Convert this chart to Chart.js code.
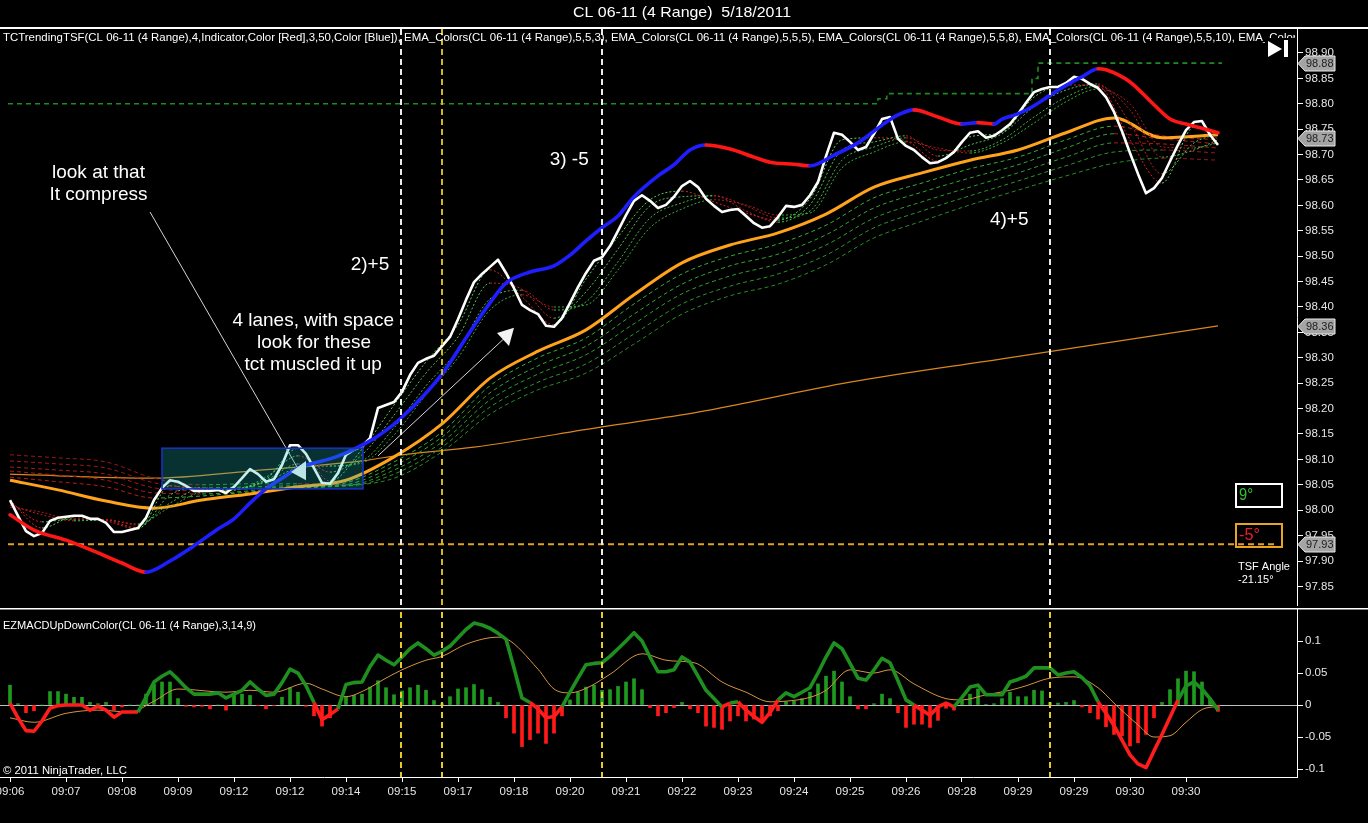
<!DOCTYPE html>
<html><head><meta charset="utf-8">
<script src="https://cdn.jsdelivr.net/npm/chart.js@4.4.1/dist/chart.umd.min.js"></script>
<style>
html,body{margin:0;padding:0;background:#000;overflow:hidden;}
#wrap{position:relative;width:1368px;height:823px;background:#000;}
#c1{position:absolute;left:0;top:0;}
#c2{position:absolute;left:0;top:608px;}
</style></head><body>
<div id="wrap">
<canvas id="c1" width="1368" height="608"></canvas>
<canvas id="c2" width="1368" height="215"></canvas>
</div>
<script>
// ---------------- DATA ----------------
const timeLabels = ["09:06","09:07","09:08","09:09","09:12","09:12","09:14","09:15","09:17","09:18","09:20","09:21","09:22","09:23","09:24","09:25","09:26","09:28","09:29","09:29","09:30","09:30"];
const barsPerLabel = 7;
const priceTicks = [97.85,97.90,97.95,98.00,98.05,98.10,98.15,98.20,98.25,98.30,98.35,98.40,98.45,98.50,98.55,98.60,98.65,98.70,98.75,98.80,98.85,98.90];
const macdTicks = [-0.1,-0.05,0,0.05,0.1];

// white close line, one value per bar
const closeVals = [
98.020,97.989,97.959,97.949,97.955,97.979,97.985,97.987,97.989,97.989,
97.983,97.983,97.975,97.957,97.957,97.961,97.965,97.985,98.020,98.044,
98.059,98.056,98.048,98.038,98.038,98.038,98.040,98.034,98.046,98.063,
98.081,98.071,98.056,98.061,98.089,98.128,98.128,98.111,98.083,98.054,
98.052,98.073,98.109,98.119,98.126,98.142,98.201,98.207,98.213,98.233,
98.266,98.290,98.298,98.304,98.323,98.341,98.376,98.414,98.449,98.465,
98.479,98.493,98.467,98.437,98.404,98.394,98.386,98.363,98.361,98.378,
98.408,98.439,98.467,98.491,98.498,98.520,98.550,98.581,98.609,98.620,
98.609,98.595,98.601,98.617,98.638,98.648,98.636,98.613,98.599,98.587,
98.591,98.593,98.579,98.565,98.556,98.559,98.577,98.599,98.597,98.601,
98.620,98.646,98.697,98.743,98.739,98.725,98.709,98.715,98.741,98.770,
98.774,98.731,98.717,98.709,98.695,98.683,98.685,98.693,98.705,98.725,
98.743,98.746,98.733,98.737,98.748,98.760,98.780,98.802,98.823,98.829,
98.833,98.833,98.841,98.853,98.849,98.839,98.831,98.813,98.784,98.746,
98.703,98.662,98.624,98.634,98.654,98.687,98.719,98.748,98.764,98.766,
98.739,98.719];

// TSF trend line [bar, value]
const tsfPts = [[0,97.991],[3,97.961],[7,97.941],[11,97.916],[14,97.896],[17,97.878],[20,97.900],[23,97.930],[26,97.963],[28,97.983],[30,98.014],[32,98.042],[34,98.063],[36,98.083],[38,98.093],[40,98.101],[42,98.113],[44,98.128],[46,98.146],[49,98.183],[54,98.268],[57,98.339],[60,98.408],[62,98.447],[65,98.469],[68,98.481],[70,98.502],[72,98.530],[74,98.556],[76,98.579],[78,98.617],[81,98.658],[83,98.680],[85,98.709],[87,98.719],[90,98.711],[93,98.695],[95,98.685],[98,98.681],[100,98.678],[103,98.699],[106,98.723],[109,98.758],[111,98.778],[113,98.788],[116,98.774],[119,98.760],[121,98.763],[123,98.760],[124,98.770],[126,98.780],[128,98.796],[130,98.817],[133,98.845],[134,98.853],[136,98.869],[137,98.867],[140,98.843],[143,98.798],[145,98.770],[147,98.760],[149,98.752],[151,98.743]];

// fast EMA ribbon (3,5,8,10)
const fastIdx = [0,4,8,12,16,20,24,28,32,36,40,44,48,52,56,60,64,68,72,76,80,84,88,92,96,100,104,108,112,116,120,124,128,132,136,140,144,148,151];
const fast1 = [98.020,97.965,97.987,97.979,97.963,98.048,98.040,98.042,98.061,98.122,98.057,98.120,98.207,98.292,98.365,98.473,98.420,98.365,98.455,98.538,98.611,98.628,98.607,98.585,98.571,98.613,98.729,98.733,98.727,98.687,98.735,98.744,98.813,98.837,98.835,98.729,98.644,98.754,98.731];
const fast2 = [98.016,97.977,97.983,97.981,97.965,98.030,98.044,98.040,98.065,98.107,98.075,98.109,98.187,98.270,98.341,98.447,98.435,98.378,98.430,98.514,98.599,98.617,98.619,98.589,98.567,98.601,98.709,98.725,98.737,98.697,98.719,98.741,98.794,98.827,98.839,98.762,98.662,98.723,98.741];
const fast3 = [98.010,97.991,97.979,97.981,97.971,98.014,98.042,98.040,98.059,98.091,98.087,98.097,98.162,98.245,98.315,98.416,98.433,98.394,98.410,98.489,98.575,98.605,98.619,98.599,98.575,98.589,98.689,98.715,98.733,98.709,98.707,98.729,98.774,98.813,98.835,98.788,98.695,98.709,98.729];
const fast4 = [98.006,97.996,97.981,97.981,97.973,98.006,98.036,98.040,98.056,98.083,98.087,98.093,98.148,98.227,98.300,98.394,98.424,98.400,98.404,98.473,98.556,98.593,98.611,98.601,98.581,98.585,98.674,98.705,98.725,98.713,98.703,98.723,98.762,98.804,98.829,98.800,98.715,98.713,98.723];

// slow EMA ribbon + thick orange EMA
const slowIdx = [0,6,12,18,24,30,36,42,48,54,60,66,72,78,84,90,96,102,108,114,120,126,132,138,144,151];
const orangeEma = [98.059,98.040,98.018,98.004,98.020,98.032,98.046,98.059,98.105,98.170,98.260,98.313,98.355,98.424,98.487,98.522,98.546,98.583,98.636,98.664,98.689,98.709,98.743,98.772,98.733,98.739];
const slow1 = [98.065,98.056,98.046,98.024,98.028,98.036,98.044,98.054,98.095,98.154,98.245,98.300,98.339,98.406,98.465,98.500,98.524,98.561,98.615,98.644,98.672,98.695,98.729,98.756,98.737,98.729];
const slow2 = [98.077,98.069,98.059,98.034,98.032,98.038,98.044,98.050,98.087,98.144,98.231,98.284,98.323,98.386,98.445,98.481,98.504,98.542,98.595,98.626,98.654,98.680,98.713,98.741,98.731,98.721];
const slow3 = [98.085,98.079,98.071,98.044,98.038,98.042,98.046,98.048,98.079,98.134,98.217,98.268,98.306,98.367,98.426,98.461,98.485,98.522,98.575,98.607,98.636,98.664,98.695,98.723,98.721,98.713];
const slow4 = [98.097,98.091,98.083,98.054,98.044,98.046,98.048,98.048,98.071,98.124,98.203,98.252,98.288,98.347,98.406,98.441,98.465,98.502,98.556,98.589,98.619,98.648,98.678,98.705,98.709,98.703];
const slow5 = [98.109,98.103,98.095,98.063,98.050,98.052,98.052,98.050,98.063,98.115,98.189,98.237,98.270,98.327,98.386,98.422,98.445,98.483,98.536,98.569,98.601,98.630,98.658,98.683,98.693,98.689];

// very slow thin orange EMA [bar, value]
const slowOrangePts = [[0,98.071],[18,98.063],[30,98.077],[44,98.097],[49,98.109],[58,98.124],[74,98.164],[86,98.193],[105,98.252],[124,98.298],[151,98.363]];

// horizontal levels
const upperLevelPts = [[-0.25,98.80],[108.5,98.81],[109.6,98.82],[127.75,98.85],[128.5,98.88],[151.5,98.88]];
const lowerLevel = {value:97.933, from:-0.25, to:158.5};

// right-axis price tags
const priceTags = [98.88, 98.733, 98.363, 97.933];
const tagLabels = ["98.88","98.73","98.36","97.93"];

// MACD panel
const macdVals = [
0.003,-0.020,-0.040,-0.041,-0.025,-0.005,-0.001,0.000,0.000,0.000,
-0.008,-0.002,-0.008,-0.019,-0.011,-0.011,-0.011,0.012,0.036,0.045,
0.052,0.040,0.027,0.017,0.017,0.017,0.019,0.011,0.017,0.023,
0.036,0.025,0.015,0.017,0.035,0.056,0.050,0.030,0.004,-0.023,
-0.015,-0.006,0.032,0.035,0.036,0.060,0.078,0.070,0.063,0.075,
0.088,0.097,0.088,0.078,0.084,0.092,0.105,0.118,0.128,0.125,
0.120,0.112,0.103,0.058,0.011,0.004,-0.006,-0.020,-0.018,-0.003,
0.020,0.042,0.063,0.065,0.066,0.076,0.088,0.100,0.113,0.100,
0.075,0.052,0.052,0.055,0.075,0.067,0.045,0.023,0.010,-0.003,
0.003,0.005,-0.008,-0.018,-0.027,-0.012,0.008,0.019,0.013,0.020,
0.027,0.050,0.075,0.097,0.088,0.065,0.042,0.039,0.055,0.073,
0.066,0.038,0.008,0.000,-0.008,-0.016,-0.003,0.003,-0.003,0.012,
0.028,0.031,0.016,0.016,0.016,0.036,0.040,0.045,0.058,0.058,
0.058,0.047,0.050,0.052,0.043,0.030,0.005,-0.013,-0.032,-0.055,
-0.078,-0.092,-0.098,-0.072,-0.046,-0.019,0.008,0.030,0.036,0.025,
0.010,-0.008];
const signalPts = [[0,-0.020],[3,-0.027],[7,-0.013],[11,-0.008],[15,-0.011],[18,0.006],[21,0.025],[27,0.020],[30,0.023],[33,0.020],[37,0.034],[39,0.025],[42,0.013],[44,0.021],[47,0.042],[49,0.055],[52,0.070],[54,0.076],[57,0.095],[61,0.106],[62,0.104],[66,0.056],[68,0.025],[70,0.019],[72,0.026],[75,0.048],[79,0.080],[82,0.070],[85,0.067],[86,0.064],[89,0.036],[92,0.020],[95,0.005],[97,0.006],[100,0.012],[102,0.023],[105,0.055],[108,0.050],[110,0.055],[113,0.033],[117,0.010],[119,0.008],[122,0.016],[125,0.023],[127,0.030],[130,0.042],[133,0.044],[136,0.027],[138,0.003],[141,-0.031],[143,-0.050],[145,-0.048],[147,-0.027],[149,-0.007],[151,-0.002]];
const macdHist = [
0.031,0.002,-0.012,-0.009,0.000,0.021,0.021,0.017,0.012,0.012,
0.004,0.002,0.004,-0.008,-0.003,0.000,0.000,0.017,0.033,0.036,
0.036,0.010,-0.002,-0.003,-0.002,-0.006,0.000,-0.008,0.015,0.017,
0.015,-0.001,-0.006,-0.001,0.012,0.027,0.020,-0.002,-0.017,-0.033,
-0.020,-0.002,0.012,0.015,0.017,0.028,0.038,0.027,0.016,0.022,
0.027,0.031,0.023,0.007,0.002,0.013,0.025,0.027,0.032,0.024,
0.012,0.004,-0.020,-0.044,-0.065,-0.054,-0.044,-0.060,-0.044,-0.017,
0.008,0.020,0.028,0.031,0.023,0.024,0.029,0.036,0.041,0.024,
-0.004,-0.017,-0.012,-0.004,0.004,-0.006,-0.012,-0.033,-0.035,-0.038,
-0.025,-0.017,-0.025,-0.022,-0.027,-0.017,-0.009,0.005,0.006,0.010,
0.020,0.033,0.045,0.053,0.036,0.013,-0.006,-0.006,0.002,0.017,
0.010,-0.012,-0.035,-0.030,-0.030,-0.035,-0.024,-0.005,-0.008,0.007,
0.017,0.025,0.001,0.002,0.010,0.020,0.013,0.013,0.023,0.022,
0.004,0.003,0.004,0.007,-0.003,-0.012,-0.022,-0.034,-0.046,-0.048,
-0.064,-0.059,-0.046,-0.020,0.004,0.024,0.041,0.053,0.052,0.036,
0.010,-0.010];

// event markers (bar positions)
const markerBars = [48.875, 54, 74, 130];
const markerPriceColors = ['#ececec','#d6b41e','#ececec','#ececec'];

// annotations in data space [bar, price]
const notes = [
  {x:11.06, y:98.664, text:'look at that'},
  {x:11.06, y:98.620, text:'It compress'},
  {x:45,    y:98.483, text:'2)+5'},
  {x:37.9,  y:98.372, text:'4 lanes, with space'},
  {x:38,    y:98.329, text:'look for these'},
  {x:37.9,  y:98.286, text:'tct muscled it up'},
  {x:69.9,  y:98.689, text:'3) -5'},
  {x:124.9, y:98.571, text:'4)+5'}
];
const arrows = [
  {from:[17.5,98.587], to:[35.875,98.085], head:[[35.125,98.075],[37.0,98.097],[37.0,98.059]]},
  {from:[46,98.107], to:[62.25,98.345], head:[[63,98.359],[60.875,98.349],[62.375,98.323]]}
];
const zoneBox = {x0:19, x1:44.125, yTop:98.122, yBottom:98.042};

const titleText = "CL 06-11 (4 Range)  5/18/2011";
const headerPrefix = "TCTrendingTSF(CL 06-11 (4 Range),4,Indicator,Color [Red],3,50,Color [Blue]), ";
const headerText = headerPrefix + "EMA_Colors(CL 06-11 (4 Range),5,5,3), EMA_Colors(CL 06-11 (4 Range),5,5,5), EMA_Colors(CL 06-11 (4 Range),5,5,8), EMA_Colors(CL 06-11 (4 Range),5,5,10), EMA_Colors(CL 06-11 (4 Range),5,5,13)";
const macdTitle = "EZMACDUpDownColor(CL 06-11 (4 Range),3,14,9)";
const copyright = "\u00A9 2011 NinjaTrader, LLC";

// axis ranges
const X_MIN = -1.25, X_MAX = 160.875;
const PRICE_MIN = 97.8134, PRICE_MAX = 98.9472;
const MACD_MIN = -0.1125, MACD_MAX = 0.1516;

// ---------------- CHARTS ----------------
const FONT = "'Liberation Sans', Arial, sans-serif";
Chart.defaults.font.family = FONT;
Chart.defaults.font.size = 11;
Chart.defaults.color = '#e6e6e6';

const byIdx = (idx, vals) => idx.map((x,k)=>({x, y:vals[k]}));
const byPairs = arr => arr.map(p=>({x:p[0], y:p[1]}));
const perBar = vals => vals.map((v,i)=>({x:i, y:v}));
const upDown = (up, down) => ({borderColor: c => c.p1.parsed.y >= c.p0.parsed.y ? up : down});

function lineDs(data, o){
  return Object.assign({type:'line', data, pointRadius:0, fill:false, borderWidth:1, tension:0}, o);
}

function fitText(ctx, text, x, y, targetW){
  const w = ctx.measureText(text).width;
  ctx.save(); ctx.translate(x, y); ctx.scale(targetW / w, 1); ctx.fillText(text, 0, 0); ctx.restore();
}
function scaleFactor(ctx, text, targetW){ return targetW / ctx.measureText(text).width; }

const priceOverlay = {
  id:'priceOverlay',
  afterDatasetsDraw(chart){
    const {ctx, chartArea:a, scales:{x, y}} = chart;
    const X = v => x.getPixelForValue(v), Y = v => y.getPixelForValue(v);
    ctx.save();
    ctx.beginPath(); ctx.rect(a.left, a.top, a.right - a.left, a.bottom - a.top); ctx.clip();
    // arrows
    arrows.forEach(ar => {
      ctx.strokeStyle = '#d6d6d6'; ctx.lineWidth = 1; ctx.setLineDash([]);
      ctx.beginPath(); ctx.moveTo(X(ar.from[0]), Y(ar.from[1])); ctx.lineTo(X(ar.to[0]), Y(ar.to[1])); ctx.stroke();
      ctx.fillStyle = '#f2f2f2'; ctx.beginPath();
      ar.head.forEach((p,k) => k ? ctx.lineTo(X(p[0]), Y(p[1])) : ctx.moveTo(X(p[0]), Y(p[1])));
      ctx.closePath(); ctx.fill();
    });
    // compression zone
    const bx1 = X(zoneBox.x0), bx2 = X(zoneBox.x1), by1 = Y(zoneBox.yTop), by2 = Y(zoneBox.yBottom);
    ctx.fillStyle = 'rgba(31,192,192,0.26)'; ctx.fillRect(bx1, by1, bx2 - bx1, by2 - by1);
    ctx.strokeStyle = '#1832bc'; ctx.lineWidth = 1.6; ctx.strokeRect(bx1, by1, bx2 - bx1, by2 - by1);
    // markers
    ctx.lineWidth = 2; ctx.setLineDash([6,4]);
    markerBars.forEach((b,k) => {
      const px = Math.round(X(b));
      ctx.strokeStyle = markerPriceColors[k];
      ctx.beginPath(); ctx.moveTo(px, a.top); ctx.lineTo(px, a.bottom); ctx.stroke();
    });
    ctx.setLineDash([]);
    // notes
    ctx.fillStyle = '#ffffff'; ctx.font = '19px ' + FONT; ctx.textAlign = 'center'; ctx.textBaseline = 'middle';
    notes.forEach(n => ctx.fillText(n.text, X(n.x), Y(n.y)));
    ctx.restore();
  },
  afterDraw(chart){
    const {ctx, chartArea:a, scales:{y}} = chart;
    ctx.save();
    // title
    ctx.fillStyle = '#ffffff'; ctx.font = '15px ' + FONT; ctx.textBaseline = 'middle'; ctx.textAlign = 'left';
    fitText(ctx, titleText, 573, 13, 218);
    ctx.fillRect(0, 27, chart.width, 2);
    // header
    ctx.font = '11.5px ' + FONT;
    const sx = scaleFactor(ctx, headerPrefix, 401);
    ctx.save(); ctx.beginPath(); ctx.rect(0, a.top, a.right - 2, 20); ctx.clip();
    ctx.translate(3, 38); ctx.scale(sx, 1); ctx.fillStyle = '#ffffff'; ctx.fillText(headerText, 0, 0);
    ctx.restore();
    // play/end icon
    ctx.fillStyle = '#000'; ctx.fillRect(a.right - 32, 38, 30, 22);
    ctx.fillStyle = '#ffffff';
    ctx.beginPath(); ctx.moveTo(a.right - 29, 41); ctx.lineTo(a.right - 29, 57); ctx.lineTo(a.right - 15, 49); ctx.closePath(); ctx.fill();
    ctx.fillRect(a.right - 13, 40, 4, 17);
    // angle boxes
    const bx = a.right - 61;
    ctx.lineWidth = 2;
    ctx.strokeStyle = '#ffffff'; ctx.strokeRect(bx, 484, 46, 23);
    ctx.strokeStyle = '#e8a423'; ctx.strokeRect(bx, 524, 46, 23);
    ctx.font = '17px ' + FONT; ctx.textAlign = 'left'; ctx.textBaseline = 'middle';
    ctx.fillStyle = '#2ec42e'; fitText(ctx, '9\u00B0', bx + 3, 495, 14);
    ctx.fillStyle = '#e8202a'; fitText(ctx, '-5\u00B0', bx + 3, 535, 21);
    ctx.font = '11px ' + FONT; ctx.fillStyle = '#ffffff';
    ctx.fillText('TSF Angle', bx + 2, 567);
    ctx.fillText('-21.15\u00B0', bx + 2, 580);
    // price tags
    ctx.font = '11px ' + FONT; ctx.textBaseline = 'middle';
    priceTags.forEach((v,k) => {
      const py = Math.round(y.getPixelForValue(v)) + 0.5, x0 = a.right + 1;
      ctx.beginPath();
      ctx.moveTo(x0, py); ctx.lineTo(x0 + 7, py - 7.5); ctx.lineTo(x0 + 37, py - 7.5); ctx.lineTo(x0 + 37, py + 7.5); ctx.lineTo(x0 + 7, py + 7.5); ctx.closePath();
      ctx.fillStyle = '#a4a4a4'; ctx.fill(); ctx.strokeStyle = '#e8e8e8'; ctx.lineWidth = 1; ctx.stroke();
      ctx.fillStyle = '#1c1c1c'; ctx.fillText(tagLabels[k], x0 + 8, py + 0.5);
    });
    ctx.restore();
  }
};

const macdOverlay = {
  id:'macdOverlay',
  beforeDatasetsDraw(chart){
    const {ctx, chartArea:a, scales:{y}} = chart;
    const zy = Math.round(y.getPixelForValue(0)) + 0.5;
    ctx.save(); ctx.strokeStyle = '#bdbdbd'; ctx.lineWidth = 1;
    ctx.beginPath(); ctx.moveTo(a.left, zy); ctx.lineTo(a.right, zy); ctx.stroke(); ctx.restore();
  },
  afterDatasetsDraw(chart){
    const {ctx, chartArea:a, scales:{x}} = chart;
    ctx.save();
    ctx.lineWidth = 2; ctx.setLineDash([6,4]); ctx.strokeStyle = '#e6c82a';
    markerBars.forEach(b => {
      const px = Math.round(x.getPixelForValue(b));
      ctx.beginPath(); ctx.moveTo(px, a.top + 4); ctx.lineTo(px, a.bottom); ctx.stroke();
    });
    ctx.setLineDash([]);
    ctx.fillStyle = '#ffffff'; ctx.font = '11.5px ' + FONT; ctx.textBaseline = 'middle'; ctx.textAlign = 'left';
    fitText(ctx, macdTitle, 3, 18, 253);
    fitText(ctx, copyright, 3, 163, 124);
    ctx.fillRect(0, 0, chart.width, 1.5);
    ctx.restore();
  }
};

const xTicks = timeLabels.map((t,k) => k * barsPerLabel);

// -------- price panel --------
new Chart(document.getElementById('c1'), {
  type:'line',
  data:{datasets:[
    lineDs(byPairs(tsfPts), {borderWidth:3.6, borderColor:'#1e1eff', cubicInterpolationMode:'monotone', segment:upDown('#1e1eff','#ff1616'), borderCapStyle:'round', borderJoinStyle:'round'}),
    lineDs(perBar(closeVals), {borderWidth:2.6, borderColor:'#ffffff', borderJoinStyle:'round'}),
    lineDs(byIdx(fastIdx, fast1), {borderColor:'#58d058', borderDash:[2,2], cubicInterpolationMode:'monotone', segment:upDown('#58d058','#d02222')}),
    lineDs(byIdx(fastIdx, fast2), {borderColor:'#4cc44c', borderDash:[2,2], cubicInterpolationMode:'monotone', segment:upDown('#4cc44c','#c42020')}),
    lineDs(byIdx(fastIdx, fast3), {borderColor:'#40b840', borderDash:[2,2], cubicInterpolationMode:'monotone', segment:upDown('#40b840','#b81e1e')}),
    lineDs(byIdx(fastIdx, fast4), {borderColor:'#38ac38', borderDash:[2,2], cubicInterpolationMode:'monotone', segment:upDown('#38ac38','#ac1c1c')}),
    lineDs(byIdx(slowIdx, orangeEma), {borderWidth:3, borderColor:'#ffa31c', cubicInterpolationMode:'monotone'}),
    lineDs(byIdx(slowIdx, slow1), {borderColor:'#36ac36', borderDash:[4,3], cubicInterpolationMode:'monotone', segment:upDown('#36ac36','#b81c1c')}),
    lineDs(byIdx(slowIdx, slow2), {borderColor:'#32a432', borderDash:[4,3], cubicInterpolationMode:'monotone', segment:upDown('#32a432','#b01a1a')}),
    lineDs(byIdx(slowIdx, slow3), {borderColor:'#2e9c2e', borderDash:[4,3], cubicInterpolationMode:'monotone', segment:upDown('#2e9c2e','#a81a1a')}),
    lineDs(byIdx(slowIdx, slow4), {borderColor:'#2a942a', borderDash:[4,3], cubicInterpolationMode:'monotone', segment:upDown('#2a942a','#a01818')}),
    lineDs(byIdx(slowIdx, slow5), {borderColor:'#268c26', borderDash:[4,3], cubicInterpolationMode:'monotone', segment:upDown('#268c26','#981818')}),
    lineDs(byPairs(slowOrangePts), {borderWidth:1.2, borderColor:'#d9861c', cubicInterpolationMode:'monotone'}),
    lineDs(byPairs(upperLevelPts), {borderWidth:1.6, borderColor:'#1f8a1f', borderDash:[5,4], stepped:'before'}),
    lineDs([{x:lowerLevel.from, y:lowerLevel.value},{x:lowerLevel.to, y:lowerLevel.value}], {borderWidth:2, borderColor:'#e6a020', borderDash:[6,4]})
  ]},
  options:{
    responsive:false, animation:false, events:[],
    layout:{padding:{top:29, bottom:3, left:0, right:0}},
    plugins:{legend:{display:false}, tooltip:{enabled:false}},
    scales:{
      x:{type:'linear', min:X_MIN, max:X_MAX, offset:false, display:false},
      y:{position:'right', min:PRICE_MIN, max:PRICE_MAX,
         afterBuildTicks: s => { s.ticks = priceTicks.map(v => ({value:v})); },
         ticks:{autoSkip:false, padding:2, color:'#e6e6e6', font:{size:11.5}, callback: v => Number(v).toFixed(2)},
         grid:{drawOnChartArea:false, color:'#ffffff', tickLength:6},
         border:{color:'#ffffff', width:1},
         afterFit: s => { s.width = 71; s.paddingTop = 0; s.paddingBottom = 0; }}
    }
  },
  plugins:[priceOverlay]
});

// -------- MACD panel --------
new Chart(document.getElementById('c2'), {
  type:'bar',
  data:{datasets:[
    lineDs(perBar(macdVals), {order:1, borderWidth:3.6, borderColor:'#1f8f1f', borderJoinStyle:'round',
      segment:{borderColor: c => (c.p0.parsed.y + c.p1.parsed.y) / 2 <= 0 ? '#ff1c1c' : '#1f8f1f'}}),
    lineDs(byPairs(signalPts), {order:2, borderWidth:1, borderColor:'#d4933e', cubicInterpolationMode:'monotone'}),
    {type:'bar', order:3, data: perBar(macdHist), barThickness:3,
      backgroundColor: c => (c.parsed && c.parsed.y >= 0) ? '#1f9a1f' : '#ff1a1a'}
  ]},
  options:{
    responsive:false, animation:false, events:[],
    layout:{padding:{top:0, bottom:0, left:0, right:0}},
    plugins:{legend:{display:false}, tooltip:{enabled:false}},
    scales:{
      x:{type:'linear', min:X_MIN, max:X_MAX, offset:false,
         afterBuildTicks: s => { s.ticks = xTicks.map(v => ({value:v})); },
         ticks:{autoSkip:false, maxRotation:0, padding:3, color:'#e6e6e6', font:{size:11.5}, callback:(v, i) => timeLabels[i]},
         grid:{drawOnChartArea:false, offset:false, color:'#ffffff', tickLength:5},
         border:{color:'#ffffff', width:1},
         afterFit: s => { s.height = 46; s.paddingLeft = 0; s.paddingRight = 0; }},
      y:{position:'right', min:MACD_MIN, max:MACD_MAX,
         afterBuildTicks: s => { s.ticks = macdTicks.map(v => ({value:v})); },
         ticks:{autoSkip:false, padding:2, color:'#e6e6e6', font:{size:11.5}, callback: v => String(v)},
         grid:{drawOnChartArea:false, color:'#ffffff', tickLength:6},
         border:{color:'#ffffff', width:1},
         afterFit: s => { s.width = 71; s.paddingTop = 0; s.paddingBottom = 0; }}
    }
  },
  plugins:[macdOverlay]
});
</script>
</body></html>
